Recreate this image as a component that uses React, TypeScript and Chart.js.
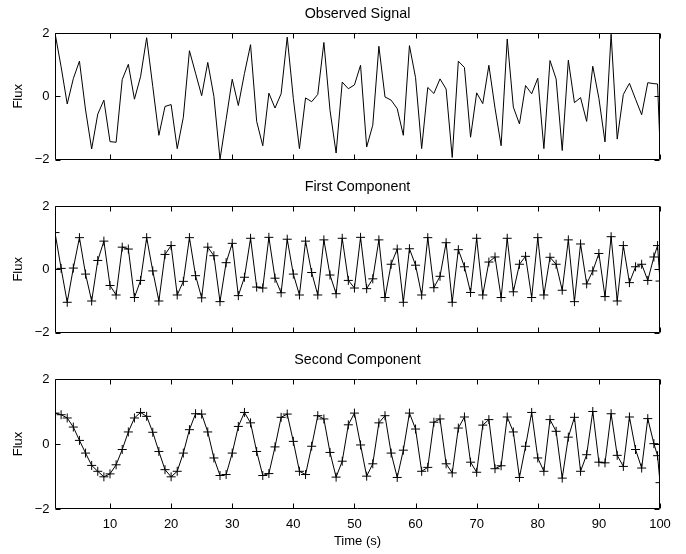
import React, { useEffect, useRef } from "react";
import { Chart, registerables } from "chart.js";

Chart.register(...registerables);

const TIME = [
  1, 2, 3, 4, 5, 6, 7, 8, 9, 10,
  11, 12, 13, 14, 15, 16, 17, 18, 19, 20,
  21, 22, 23, 24, 25, 26, 27, 28, 29, 30,
  31, 32, 33, 34, 35, 36, 37, 38, 39, 40,
  41, 42, 43, 44, 45, 46, 47, 48, 49, 50,
  51, 52, 53, 54, 55, 56, 57, 58, 59, 60,
  61, 62, 63, 64, 65, 66, 67, 68, 69, 70,
  71, 72, 73, 74, 75, 76, 77, 78, 79, 80,
  81, 82, 83, 84, 85, 86, 87, 88, 89, 90,
  91, 92, 93, 94, 95, 96, 97, 98, 99, 99.6, 100,
];

const OBSERVED = [
  2.0, 0.93, -0.24, 0.56, 1.11, -0.43, -1.66, -0.56, -0.12, -1.43,
  -1.45, 0.53, 1.01, -0.09, 0.62, 1.85, 0.31, -1.23, -0.32, -0.26,
  -1.65, -0.66, 1.44, 0.73, 0.02, 1.07, 0.0, -1.99, -0.73, 0.54,
  -0.29, 0.72, 1.63, -0.79, -1.56, 0.1, -0.37, 0.08, 1.87, -0.07,
  -1.65, -0.05, -0.17, 0.06, 1.7, -0.44, -1.79, 0.45, 0.24, 0.36,
  0.98, -1.6, -0.91, 1.58, -0.02, -0.12, -0.39, -1.23, 1.6, 0.59,
  -1.65, 0.28, 0.09, 0.55, 0.23, -1.93, 1.11, 0.91, -1.29, 0.11,
  -0.23, 0.98, -0.37, -1.56, 1.81, -0.34, -0.87, 0.34, 0.08, 0.57,
  -1.65, 1.13, 0.55, -1.71, 1.14, -0.2, -0.04, -0.79, 0.95, -0.06,
  -1.44, 1.96, -1.35, 0.06, 0.41, -0.09, -0.58, 0.43, 0.4, 0.39, -1.56,
];

const FIRST = [
  1.16, 0.03, -1.04, 0.04, 1.0, -0.15, -1.0, 0.28, 0.89, -0.51,
  -0.81, 0.7, 0.64, -0.89, -0.35, 1.0, -0.05, -1.0, 0.47, 0.75,
  -0.81, -0.38, 1.0, -0.2, -0.9, 0.7, 0.43, -1.02, 0.21, 0.82,
  -0.83, -0.25, 0.98, -0.56, -0.59, 1.01, -0.28, -0.74, 0.95, -0.15,
  -0.81, 0.89, -0.1, -0.81, 0.93, -0.18, -0.77, 0.98, -0.35, -0.59,
  1.01, -0.61, -0.3, 0.93, -0.89, 0.16, 0.64, -1.04, 0.65, 0.13,
  -0.81, 1.0, -0.58, -0.22, 0.84, -1.04, 0.62, 0.08, -0.73, 0.98,
  -0.81, 0.23, 0.39, -0.89, 0.98, -0.71, 0.16, 0.41, -0.89, 1.0,
  -0.81, 0.38, 0.16, -0.66, 0.93, -1.02, 0.8, -0.46, -0.05, 0.5,
  -0.86, 1.03, -1.0, 0.75, -0.42, 0.08, 0.16, -0.35, 0.39, 0.75, -0.37,
];

const SECOND = [
  0.95, 0.9, 0.8, 0.52, 0.11, -0.28, -0.66, -0.84, -1.01, -0.92,
  -0.64, -0.17, 0.37, 0.8, 0.97, 0.85, 0.36, -0.23, -0.79, -1.01,
  -0.84, -0.28, 0.44, 0.93, 0.92, 0.37, -0.43, -0.97, -0.94, -0.28,
  0.54, 0.97, 0.65, -0.23, -0.97, -0.91, -0.09, 0.82, 0.92, 0.08,
  -0.84, -0.94, -0.07, 0.87, 0.77, -0.26, -1.02, -0.53, 0.59, 0.95,
  -0.03, -0.99, -0.61, 0.65, 0.87, -0.28, -1.03, -0.19, 0.95, 0.46,
  -0.84, -0.72, 0.67, 0.77, -0.61, -0.89, 0.49, 0.83, -0.56, -0.87,
  0.58, 0.75, -0.76, -0.67, 0.83, 0.37, -1.03, -0.07, 0.97, -0.43,
  -0.84, 0.75, 0.39, -1.05, 0.21, 0.82, -0.84, -0.33, 1.0, -0.56,
  -0.58, 0.93, -0.35, -0.69, 0.83, -0.17, -0.74, 0.78, 0.01, -0.36, -1.19,
];

const Y_TICKS = [-2, 0, 2];
const X_TICKS = [10, 20, 30, 40, 50, 60, 70, 80, 90, 100];
const PANEL_TITLES = ["Observed Signal", "First Component", "Second Component"];
const Y_LABEL = "Flux";
const X_LABEL = "Time (s)";

const FONT = "'Liberation Sans', Arial, Helvetica, sans-serif";

const boxPlugin = {
  id: "matlabBox",
  afterDatasetsDraw(chart: any) {
    const { ctx, chartArea } = chart;
    const { left, right, top, bottom } = chartArea;
    const xs = chart.scales.x;
    const ys = chart.scales.y;
    ctx.save();
    ctx.strokeStyle = "#000";
    ctx.lineWidth = 1;
    const L = Math.round(left) + 0.5;
    const R = Math.round(right) - 0.5;
    const T = Math.round(top) + 0.5;
    const B = Math.round(bottom) - 0.5;
    ctx.beginPath();
    ctx.rect(L, T, R - L, B - T);
    const tl = 5;
    X_TICKS.forEach((v) => {
      const px = Math.round(xs.getPixelForValue(v)) + 0.5;
      ctx.moveTo(px, B);
      ctx.lineTo(px, B - tl);
      ctx.moveTo(px, T);
      ctx.lineTo(px, T + tl);
    });
    Y_TICKS.forEach((v) => {
      const py = Math.round(ys.getPixelForValue(v)) + 0.5;
      ctx.moveTo(L, py);
      ctx.lineTo(L + tl, py);
      ctx.moveTo(R, py);
      ctx.lineTo(R - tl, py);
    });
    ctx.stroke();
    ctx.restore();
  },
};

type PanelProps = {
  values: number[];
  title: string;
  markers: boolean;
  showX: boolean;
  top: number;
  height: number;
  bottomPad: number;
};

function Panel({ values, title, markers, showX, top, height, bottomPad }: PanelProps) {
  const ref = useRef<HTMLCanvasElement | null>(null);
  useEffect(() => {
    if (!ref.current) return;
    const data = TIME.map((t, i) => ({ x: t, y: values[i] }));
    const chart = new Chart(ref.current, {
      type: "line",
      data: {
        datasets: [
          {
            data,
            borderColor: "#000",
            borderWidth: 1,
            tension: 0,
            fill: false,
            pointStyle: "cross",
            pointRadius: markers ? 4.5 : 0,
            pointHoverRadius: markers ? 4.5 : 0,
            pointBorderColor: "#000",
            pointBackgroundColor: "#000",
            pointBorderWidth: 1,
          } as any,
        ],
      },
      options: {
        animation: false,
        responsive: false,
        maintainAspectRatio: false,
        events: [],
        layout: { padding: { top: 0, left: 0, right: 26, bottom: bottomPad } },
        plugins: {
          legend: { display: false },
          tooltip: { enabled: false },
          title: {
            display: true,
            text: title,
            color: "#000",
            fullSize: false,
            font: { family: FONT, size: 14.3, weight: "normal" as any },
            padding: { top: 5.4, bottom: 10.4 },
          },
        },
        scales: {
          x: {
            type: "linear",
            min: 1,
            max: 100,
            grid: { display: false, drawTicks: false },
            border: { display: false },
            ticks: {
              display: showX,
              color: "#000",
              padding: 7.5,
              maxRotation: 0,
              font: { family: FONT, size: 13 },
            },
            title: {
              display: showX,
              text: X_LABEL,
              color: "#000",
              font: { family: FONT, size: 13 },
              padding: { top: 0, bottom: 5 },
            },
            afterBuildTicks: (s: any) => {
              s.ticks = X_TICKS.map((v) => ({ value: v }));
            },
            afterFit: (s: any) => {
              s.height = showX ? 45 : 0;
            },
          },
          y: {
            type: "linear",
            min: -2,
            max: 2,
            grid: { display: false, drawTicks: false },
            border: { display: false },
            ticks: {
              color: "#000",
              padding: 5.5,
              font: { family: FONT, size: 13 },
              callback: (v: any) => (Number(v) < 0 ? "\u2212" + Math.abs(Number(v)) : String(v)),
            },
            title: {
              display: true,
              text: Y_LABEL,
              color: "#000",
              font: { family: FONT, size: 13 },
              padding: { top: 10.5, bottom: 0 },
            },
            afterBuildTicks: (s: any) => {
              s.ticks = Y_TICKS.map((v) => ({ value: v }));
            },
            afterFit: (s: any) => {
              s.width = 55;
            },
          },
        },
      } as any,
      plugins: [boxPlugin],
    });
    return () => chart.destroy();
  }, [values, title, markers, showX, bottomPad]);

  return (
    <canvas
      ref={ref}
      width={686}
      height={height}
      style={{ position: "absolute", left: 0, top, width: 686, height }}
    />
  );
}

export default function App() {
  return (
    <div style={{ position: "absolute", left: 0, top: 0, width: 686, height: 554, background: "#fff" }}>
      <Panel values={OBSERVED} title={PANEL_TITLES[0]} markers={false} showX={false} top={0} height={173} bottomPad={10} />
      <Panel values={FIRST} title={PANEL_TITLES[1]} markers={true} showX={false} top={173} height={173} bottomPad={10} />
      <Panel values={SECOND} title={PANEL_TITLES[2]} markers={true} showX={true} top={346} height={208} bottomPad={0} />
    </div>
  );
}
